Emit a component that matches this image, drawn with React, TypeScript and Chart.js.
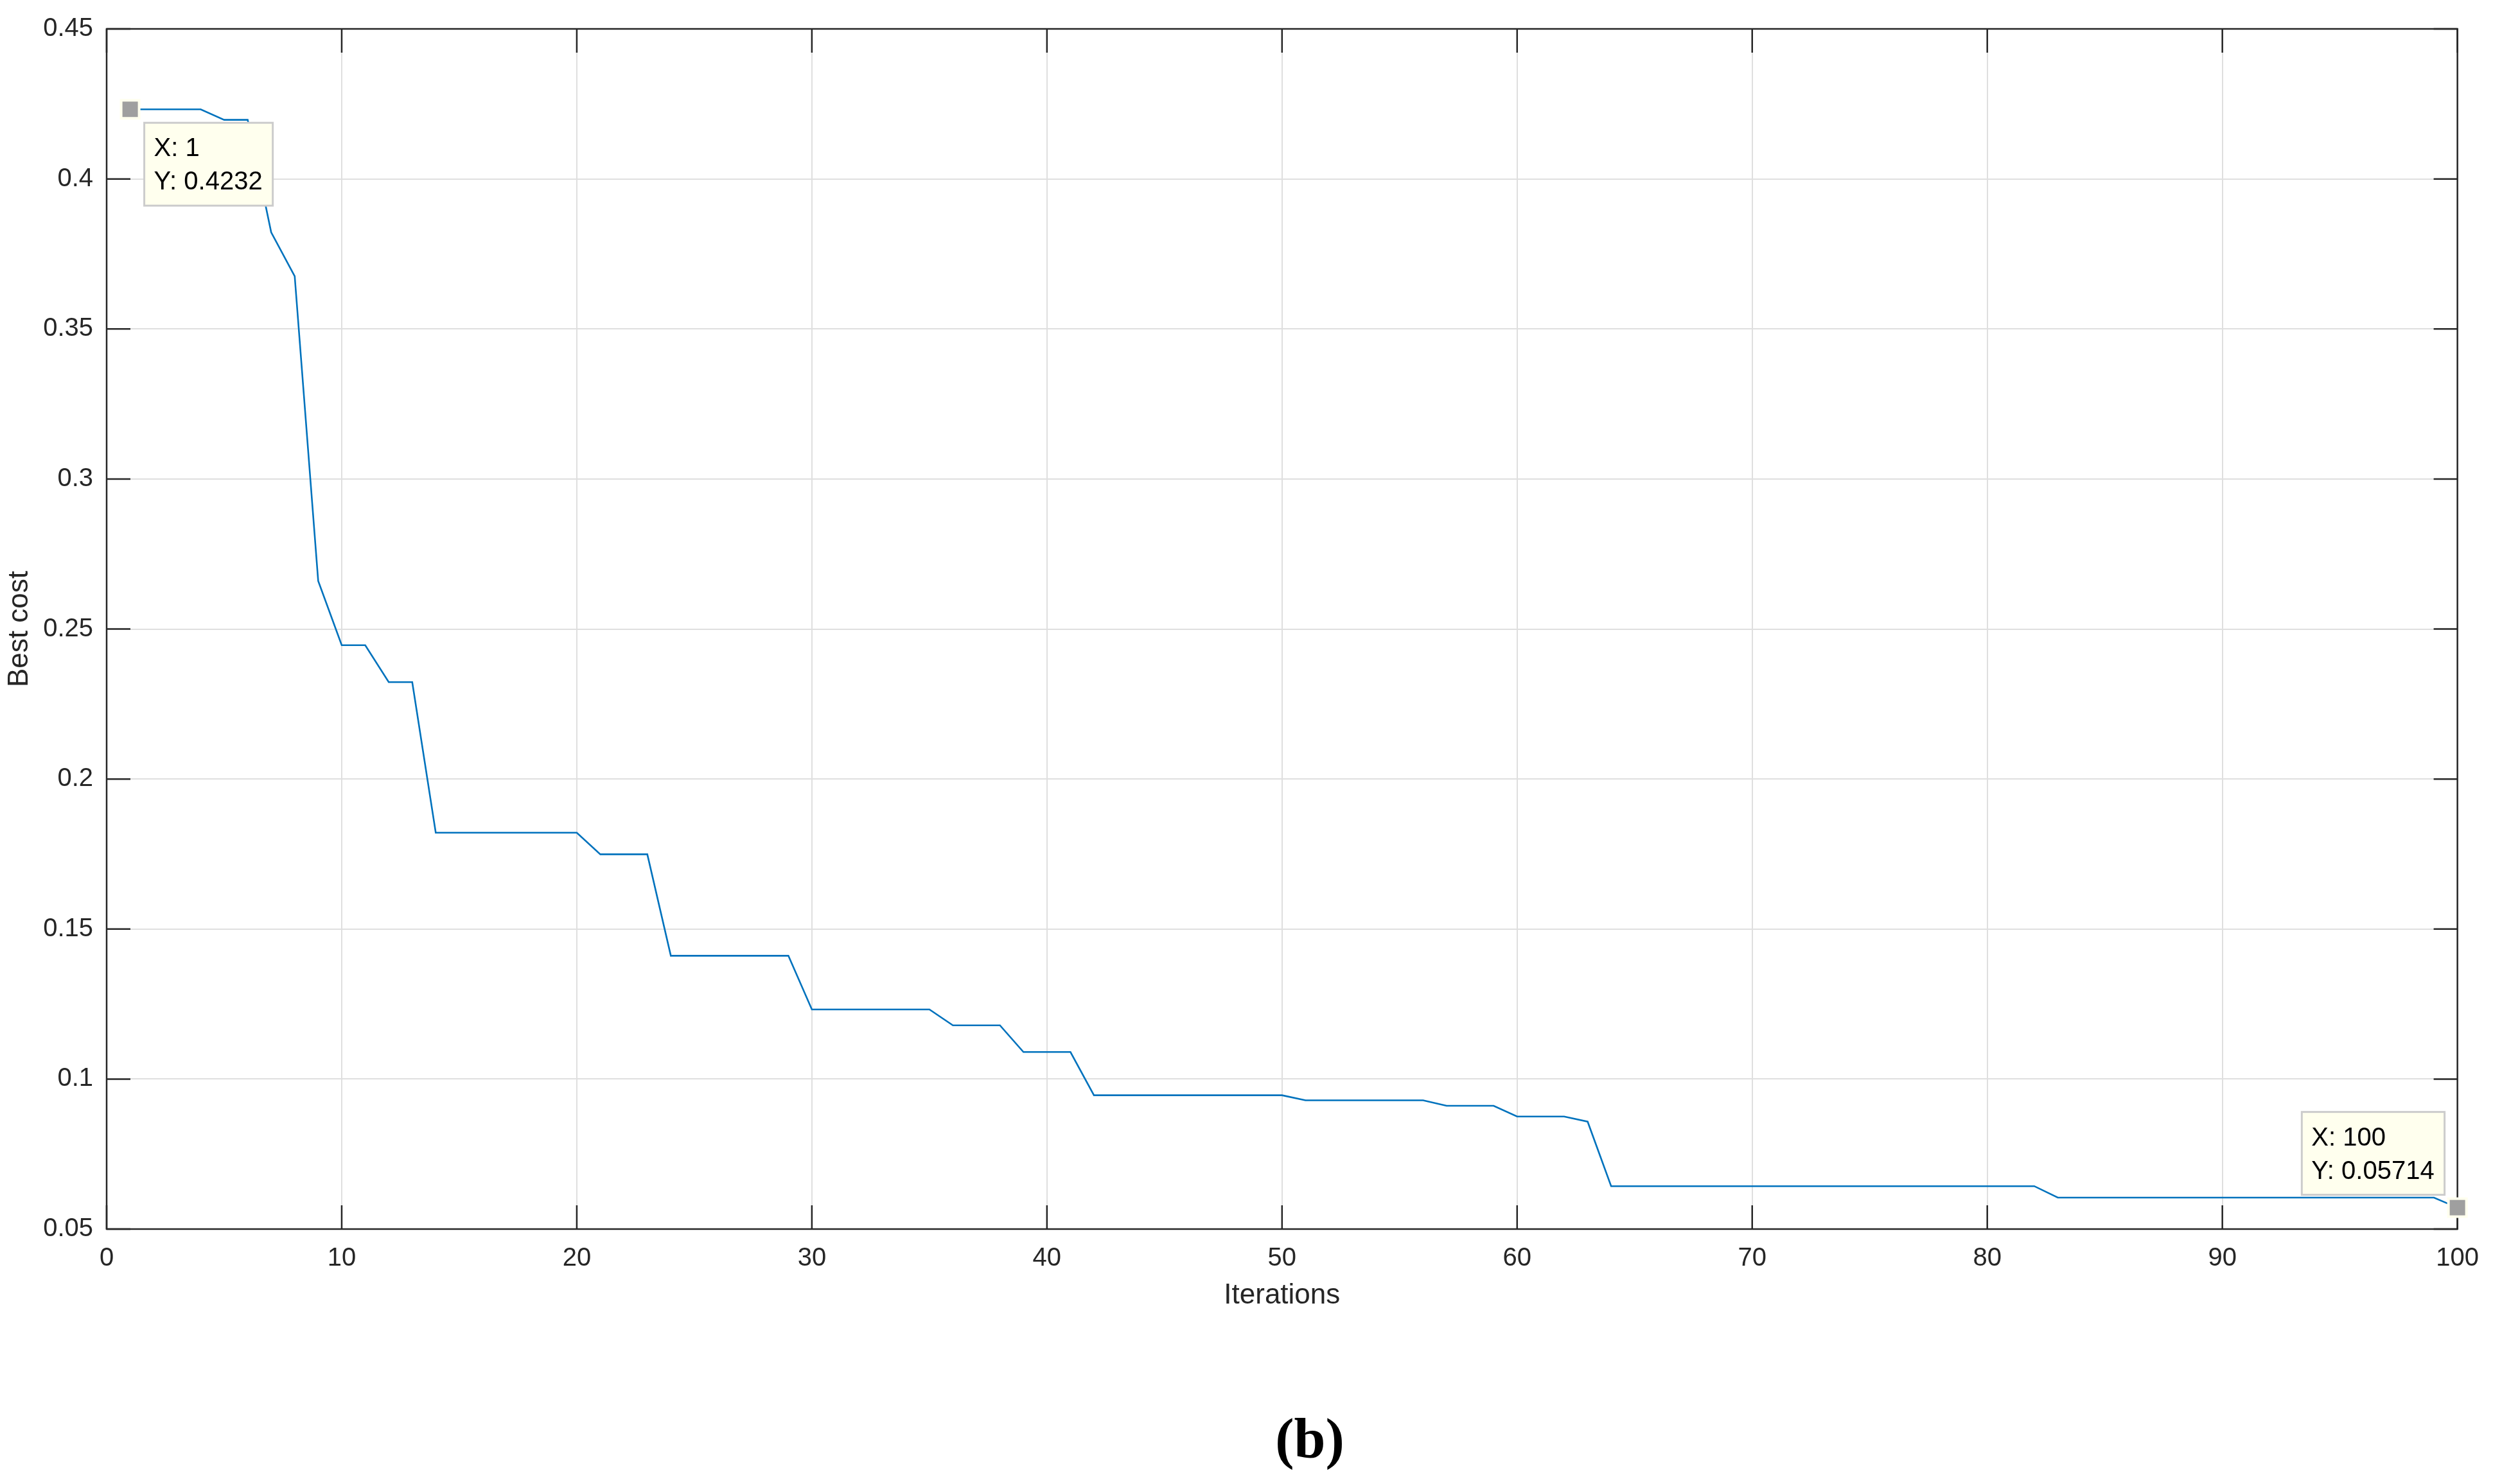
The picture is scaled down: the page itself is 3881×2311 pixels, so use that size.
import React, { useEffect, useRef } from "react";
import { Chart, registerables } from "chart.js";

Chart.register(...registerables);

// Best cost per iteration (iterations 1..100)
const bestCost = [
  0.4232, 0.4232, 0.4232, 0.4232, 0.4197, 0.4197, 0.3822, 0.3676, 0.266, 0.2446,
  0.2446, 0.2323, 0.2323, 0.1821, 0.1821, 0.1821, 0.1821, 0.1821, 0.1821, 0.1821,
  0.1749, 0.1749, 0.1749, 0.1411, 0.1411, 0.1411, 0.1411, 0.1411, 0.1411, 0.1232,
  0.1232, 0.1232, 0.1232, 0.1232, 0.1232, 0.1179, 0.1179, 0.1179, 0.109, 0.109,
  0.109, 0.0946, 0.0946, 0.0946, 0.0946, 0.0946, 0.0946, 0.0946, 0.0946, 0.0946,
  0.0929, 0.0929, 0.0929, 0.0929, 0.0929, 0.0929, 0.0911, 0.0911, 0.0911, 0.0875,
  0.0875, 0.0875, 0.0858, 0.0643, 0.0643, 0.0643, 0.0643, 0.0643, 0.0643, 0.0643,
  0.0643, 0.0643, 0.0643, 0.0643, 0.0643, 0.0643, 0.0643, 0.0643, 0.0643, 0.0643,
  0.0643, 0.0643, 0.0605, 0.0605, 0.0605, 0.0605, 0.0605, 0.0605, 0.0605, 0.0605,
  0.0605, 0.0605, 0.0605, 0.0605, 0.0605, 0.0605, 0.0605, 0.0605, 0.0605, 0.05714,
];

const xTicks = [0, 10, 20, 30, 40, 50, 60, 70, 80, 90, 100];
const yTicks = [0.05, 0.1, 0.15, 0.2, 0.25, 0.3, 0.35, 0.4, 0.45];
const yTickLabels = ["0.05", "0.1", "0.15", "0.2", "0.25", "0.3", "0.35", "0.4", "0.45"];

const tipX = [1, 100];
const tipY = [0.4232, 0.05714];
const tipXLabels = ["X: 1", "X: 100"];
const tipYLabels = ["Y: 0.4232", "Y: 0.05714"];

const xTitle = "Iterations";
const yTitle = "Best cost";
const caption = "(b)";

const FONT = "'Liberation Sans', Arial, Helvetica, sans-serif";
const AXIS_COLOR = "#262626";

const frameTicksPlugin = {
  id: "frameTicks",
  beforeDatasetsDraw(chart: any) {
    const { ctx, chartArea, scales } = chart;
    const { left, right, top, bottom } = chartArea;
    const len = 37;
    ctx.save();
    ctx.strokeStyle = AXIS_COLOR;
    ctx.lineWidth = 2.5;
    ctx.beginPath();
    for (const v of xTicks) {
      const px = scales.x.getPixelForValue(v);
      ctx.moveTo(px, bottom);
      ctx.lineTo(px, bottom - len);
      ctx.moveTo(px, top);
      ctx.lineTo(px, top + len);
    }
    for (const v of yTicks) {
      const py = scales.y.getPixelForValue(v);
      ctx.moveTo(left, py);
      ctx.lineTo(left + len, py);
      ctx.moveTo(right, py);
      ctx.lineTo(right - len, py);
    }
    ctx.stroke();
    ctx.strokeRect(left, top, right - left, bottom - top);
    ctx.restore();
  },
  afterDraw(chart: any) {
    const { ctx, scales } = chart;
    ctx.save();
    // data tips
    const placements = ["below-right", "above-left"];
    for (let i = 0; i < tipX.length; i++) {
      const px = scales.x.getPixelForValue(tipX[i]);
      const py = scales.y.getPixelForValue(tipY[i]);
      // marker
      ctx.fillStyle = "#ffffee";
      ctx.fillRect(px - 16, py - 16, 32, 32);
      ctx.fillStyle = "#9f9f9f";
      ctx.fillRect(px - 12, py - 12, 24, 24);
      ctx.font = `40px ${FONT}`;
      const w = Math.max(ctx.measureText(tipXLabels[i]).width, ctx.measureText(tipYLabels[i]).width) + 31;
      const h = 129;
      let bx, by;
      if (placements[i] === "below-right") {
        bx = px + 22;
        by = py + 21;
      } else {
        bx = px - 20 - w;
        by = py - 20 - h;
      }
      ctx.fillStyle = "#ffffee";
      ctx.fillRect(bx, by, w, h);
      ctx.strokeStyle = "#cccccc";
      ctx.lineWidth = 3;
      ctx.strokeRect(bx, by, w, h);
      ctx.fillStyle = "#000000";
      ctx.textAlign = "left";
      ctx.textBaseline = "middle";
      ctx.fillText(tipXLabels[i], bx + 15, by + 41);
      ctx.fillText(tipYLabels[i], bx + 15, by + 93);
    }
    // caption
    ctx.font = `bold 88px 'Liberation Serif', 'Times New Roman', serif`;
    ctx.fillStyle = "#000000";
    ctx.textAlign = "center";
    ctx.textBaseline = "alphabetic";
    ctx.fillText(caption, 2039, 2270);
    ctx.restore();
  },
};

export default function App() {
  const ref = useRef<HTMLCanvasElement | null>(null);

  useEffect(() => {
    if (!ref.current) return;
    const chart = new Chart(ref.current, {
      type: "line",
      data: {
        datasets: [
          {
            data: bestCost.map((y, i) => ({ x: i + 1, y })),
            borderColor: "#0072BD",
            borderWidth: 2.6,
            pointRadius: 0,
            fill: false,
            tension: 0,
          },
        ],
      },
      options: {
        responsive: false,
        maintainAspectRatio: false,
        animation: false,
        devicePixelRatio: 1,
        layout: { padding: { top: 38, right: 52, left: 0, bottom: 0 } },
        plugins: {
          legend: { display: false },
          tooltip: { enabled: false },
          title: { display: false },
        },
        scales: {
          x: {
            type: "linear",
            min: 0,
            max: 100,
            afterBuildTicks: (s: any) => {
              s.ticks = xTicks.map((v) => ({ value: v }));
            },
            afterFit: (s: any) => {
              s.height = 397;
            },
            grid: { color: "#dfdfdf", lineWidth: 2, drawTicks: false },
            border: { display: false },
            ticks: {
              autoSkip: false,
              maxRotation: 0,
              padding: 22,
              color: AXIS_COLOR,
              font: { family: FONT, size: 40 },
              callback: (v: any) => String(v),
            },
            title: {
              display: true,
              text: xTitle,
              color: AXIS_COLOR,
              font: { family: FONT, size: 44 },
              padding: { top: 0, bottom: 267 },
            },
          },
          y: {
            type: "linear",
            min: 0.05,
            max: 0.45,
            afterBuildTicks: (s: any) => {
              s.ticks = yTicks.map((v) => ({ value: v }));
            },
            afterFit: (s: any) => {
              s.width = 166;
            },
            grid: { color: "#dfdfdf", lineWidth: 2, drawTicks: false },
            border: { display: false },
            ticks: {
              autoSkip: false,
              padding: 21,
              color: AXIS_COLOR,
              font: { family: FONT, size: 40 },
              callback: (v: any) => {
                const idx = yTicks.findIndex((t) => Math.abs(t - v) < 1e-9);
                return idx >= 0 ? yTickLabels[idx] : "";
              },
            },
            title: {
              display: true,
              text: yTitle,
              color: AXIS_COLOR,
              font: { family: FONT, size: 44 },
              padding: { top: 4, bottom: 0 },
            },
          },
        },
      },
      plugins: [frameTicksPlugin],
    });
    return () => chart.destroy();
  }, []);

  return (
    <div
      style={{
        position: "fixed",
        left: 0,
        top: 0,
        width: 3881,
        height: 2311,
        background: "#ffffff",
      }}
    >
      <canvas ref={ref} width={3881} height={2311} style={{ display: "block" }} />
    </div>
  );
}
